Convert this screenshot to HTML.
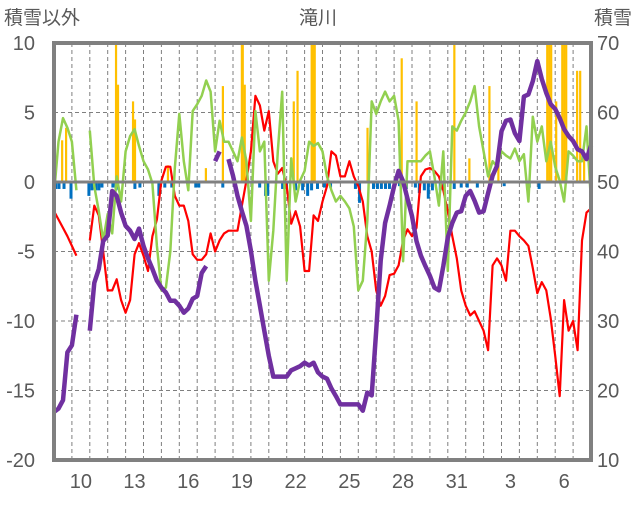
<!DOCTYPE html>
<html><head><meta charset="utf-8">
<style>
html,body{margin:0;padding:0;background:#fff;}
body{width:636px;height:501px;overflow:hidden;font-family:"Liberation Sans","Noto Sans CJK JP",sans-serif;}
svg text{font-family:"Liberation Sans","Noto Sans CJK JP",sans-serif;fill:#595959;}
</style></head>
<body>
<svg id="chart" width="636" height="501" viewBox="0 0 636 501" xmlns="http://www.w3.org/2000/svg">
<text x="4" y="24" font-size="19">積雪以外</text>
<text x="318" y="24" font-size="19" text-anchor="middle">滝川</text>
<text x="632" y="24" font-size="19" text-anchor="end">積雪</text>
<g id="grid"></g><g id="bars"></g><g id="lines"></g><g id="frame"></g><g id="labels"></g>
</svg>
<script>
const leftTicks=[10,5,0,-5,-10,-15,-20];
const rightTicks=[70,60,50,40,30,20,10];
const dayLabels=["10","13","16","19","22","25","28","31","3","6"];
const dayLabelIdx=[1,4,7,10,13,16,19,22,25,28];
const redT=[-2.1,-2.7,-3.3,-3.9,-4.6,-5.3,null,null,-4.2,-1.7,-2.4,-5,-7.8,-7.8,-7,-8.5,-9.4,-8.5,-5.2,-4.4,-5.3,-6.4,-3.9,-2.7,0.1,1.1,1.1,-1,-1.7,-1.7,-2.8,-5.2,-5.6,-5.6,-5.2,-3.7,-5,-4.2,-3.7,-3.5,-3.5,-3.5,-1.7,0.1,2.2,6.2,5.5,3.7,5.1,1.5,0.6,1,-0.3,-3,-2.1,-3.2,-6.4,-6.4,-2.4,-2.8,-1.4,-0.3,2.2,1.9,0.4,0.4,1.5,0.4,-0.3,-1.4,-3.9,-5,-7.8,-8.9,-8.2,-6.7,-6.6,-6,-4.2,-3.4,-3.9,-3.3,0.4,0.9,1,0.8,0.4,-0.6,-2.1,-3.9,-5.5,-7.8,-8.9,-9.6,-9.3,-10,-10.7,-12.1,-6,-5.5,-6,-7.1,-3.5,-3.5,-3.9,-4.2,-4.6,-6.2,-8,-7.2,-7.8,-9.8,-12.5,-15.4,-8.5,-10.7,-10,-12.1,-4.2,-2.2,-1.9];
const greenV=[-0.9,2.9,4.6,3.9,2.9,-0.6,null,null,3.7,-0.3,-2.1,-4.2,-2.3,-3.7,0.4,-1.4,2.2,3.3,3.8,2.6,1.5,0.9,-0.1,-4.6,-7.8,-7.6,-5,1,4.9,1.5,-0.6,5.1,5.6,6.2,7.3,6.5,2.2,4.4,2.9,2.9,2.2,1.5,3.2,1.5,-2.8,5.1,2.2,2.9,-7.1,-3.5,2.2,6.5,-7.1,1.7,-1.4,0.1,0.8,2.9,2.6,2.8,2.2,0.4,-0.6,-1.4,-1,-1.4,-1.9,-3.2,-7.8,-7.1,-2.8,5.8,4.9,5.8,6.5,5.8,6.2,4.4,-5.7,1.5,1.5,1.5,1.5,1.9,2.2,0.4,-1.7,2.2,-6.4,4,3.7,4.4,5,5.8,6.9,4,2.2,0.4,1.5,1.1,2.2,1.9,1.7,2.4,1.5,2,-1.4,4.7,2.9,4,1.5,2.9,1.1,0.1,-1.4,2.2,1.9,1.5,1.5,4,-1.4];
const snowDepth=[16.9,17.4,18.6,25.5,26.5,30.9,null,null,28.6,35.5,37.5,41.5,42.3,48.7,48,45.6,43.7,43,41.8,43.3,40.8,39,37.5,35.8,34.8,34.1,32.9,32.9,32.2,31.2,31.8,33.2,33.6,36.9,37.9,null,53,54.4,null,53.3,50.9,48,45.8,43.7,40.1,35.8,32.2,28.6,25,22,22,22,22,22.9,23.2,23.5,24,23.6,24,22.6,22,21.7,20.3,19.2,18,18,18,18,18,17.1,19.7,19.3,28.6,38.7,44.1,46.6,49.4,51.6,50.1,47.6,45.1,41.5,39.4,37.9,36.5,34.8,34.4,37.9,42,44.1,45.6,45.8,48,48.7,47.3,45.6,45.8,48.4,50.9,52.3,57.3,58.8,59,57,55.9,62.3,62.6,64.5,67.4,64.8,62.8,61.2,60.5,59.2,57.6,56.6,55.9,54.7,54.4,53.3,55.2];
const snowfallDay=[0.45,0.67,3.46,3.57,4.41,4.52,6.36,8.48,9.43,10.49,10.54,10.65,13.39,13.6,14.39,14.47,14.56,17.51,19.42,20.25,22.36,23.2,24.32,24.82,27.55,27.66,27.77,28.05,28.39,28.5,28.61,29.22,29.39,29.61];
const snowfallVal=[3,3.9,10,7,5.8,4.5,1.2,1,6.9,10,10,7,5.8,8,10,10,10,3.9,8.9,5.8,10,1.7,6.9,1.5,10,10,10,5.8,10,10,10,8,8,1.8];
const meltDay=[0.1,0.28,0.56,0.95,1.95,2.12,2.34,2.51,2.68,3.29,3.46,4.52,4.8,5.86,6.19,6.58,7.92,8.09,9.43,11.49,11.82,11.94,12.77,12.99,13.5,13.89,14.17,14.39,14.72,15.11,15.45,16.84,17.07,17.85,18.07,18.29,18.52,18.74,19.3,19.69,20.19,20.41,20.69,20.91,21.14,21.58,21.8,22.36,22.75,23.09,23.65,25.15,26.55,27.1];
const meltVal=[-0.5,-0.5,-0.5,-1.2,-1,-0.6,-0.6,-0.6,-0.4,-0.4,-0.6,-0.5,-0.4,-1,-0.4,-0.4,-0.4,-0.4,-0.4,-0.4,-1,-1,-0.5,-0.5,-0.6,-0.6,-1,-0.6,-0.5,-0.4,-0.4,-0.5,-1.5,-0.5,-0.5,-0.5,-0.5,-0.5,-0.3,-0.5,-0.4,-0.8,-0.6,-1.2,-0.6,-0.6,-0.4,-0.5,-0.4,-0.4,-0.4,-0.3,-0.4,-0.5];

const X0=54,X1=591,Y0=43,Y1=460,NDAYS=30;
const xs=d=>X0+d*(X1-X0)/NDAYS;
const yL=v=>Y0+(10-v)*(Y1-Y0)/30;
const yR=v=>Y0+(70-v)*(Y1-Y0)/60;
const NS="http://www.w3.org/2000/svg";
function mk(tag,parent,attrs){const e=document.createElementNS(NS,tag);for(const k in attrs)e.setAttribute(k,attrs[k]);parent.appendChild(e);return e;}
const grid=document.getElementById('grid'),bars=document.getElementById('bars'),lines=document.getElementById('lines'),frame=document.getElementById('frame'),labels=document.getElementById('labels');

for(let d=1;d<NDAYS;d++){
  const l=mk('line',grid,{x1:xs(d),x2:xs(d),y1:Y0,y2:Y1,stroke:'#7f7f7f','stroke-width':1,'stroke-dasharray':'4,3'});
  
  
}
leftTicks.forEach(v=>{
  if(v!==0&&v!==10&&v!==-20){
    const l=mk('line',grid,{x1:X0,x2:X1,y1:yL(v),y2:yL(v),stroke:'#7f7f7f','stroke-width':1,'stroke-dasharray':'4,3'});
    
    
  }
  const t=mk('text',labels,{x:35,y:yL(v)+7,'font-size':20,'text-anchor':'end'});
  t.textContent=v;
  
  
});
rightTicks.forEach(v=>{
  const t=mk('text',labels,{x:597,y:yR(v)+7,'font-size':20});
  t.textContent=v;
  
  
});
dayLabels.forEach((s,i)=>{
  const t=mk('text',labels,{x:xs(dayLabelIdx[i]+0.5),y:488,'font-size':20,'text-anchor':'middle'});
  t.textContent=s;
  
  
});
snowfallDay.forEach((d,i)=>{
  const y=yL(snowfallVal[i]);
  const r=mk('rect',bars,{x:xs(d)-1,y:y,width:2.2,height:yL(0)-y,fill:'#FFC000'});
  
  
});
meltDay.forEach((d,i)=>{
  const r=mk('rect',bars,{x:xs(d)-1.5,y:yL(0),width:3,height:yL(meltVal[i])-yL(0),fill:'#0070C0'});
  
  
});
function pathOf(arr,yf){let s='',pen=false;arr.forEach((v,i)=>{if(v===null){pen=false;return;}s+=(pen?'L':'M')+xs(i/4).toFixed(1)+','+yf(v).toFixed(1);pen=true;});return s;}
const pr=mk('path',lines,{d:pathOf(redT,yL),fill:'none',stroke:'#FF0000','stroke-width':2.2,'stroke-linejoin':'round'});


const pg=mk('path',lines,{d:pathOf(greenV,yL),fill:'none',stroke:'#92D050','stroke-width':2.5,'stroke-linejoin':'round'});


const pp=mk('path',lines,{d:pathOf(snowDepth,yR),fill:'none',stroke:'#7030A0','stroke-width':4.5,'stroke-linejoin':'round'});



const fr=mk('rect',frame,{x:X0,y:Y0,width:X1-X0,height:Y1-Y0,fill:'none',stroke:'#808080','stroke-width':4});


const zl=mk('line',frame,{x1:X0,x2:X1,y1:yL(0),y2:yL(0),stroke:'#808080','stroke-width':3});


</script>
</body></html>
